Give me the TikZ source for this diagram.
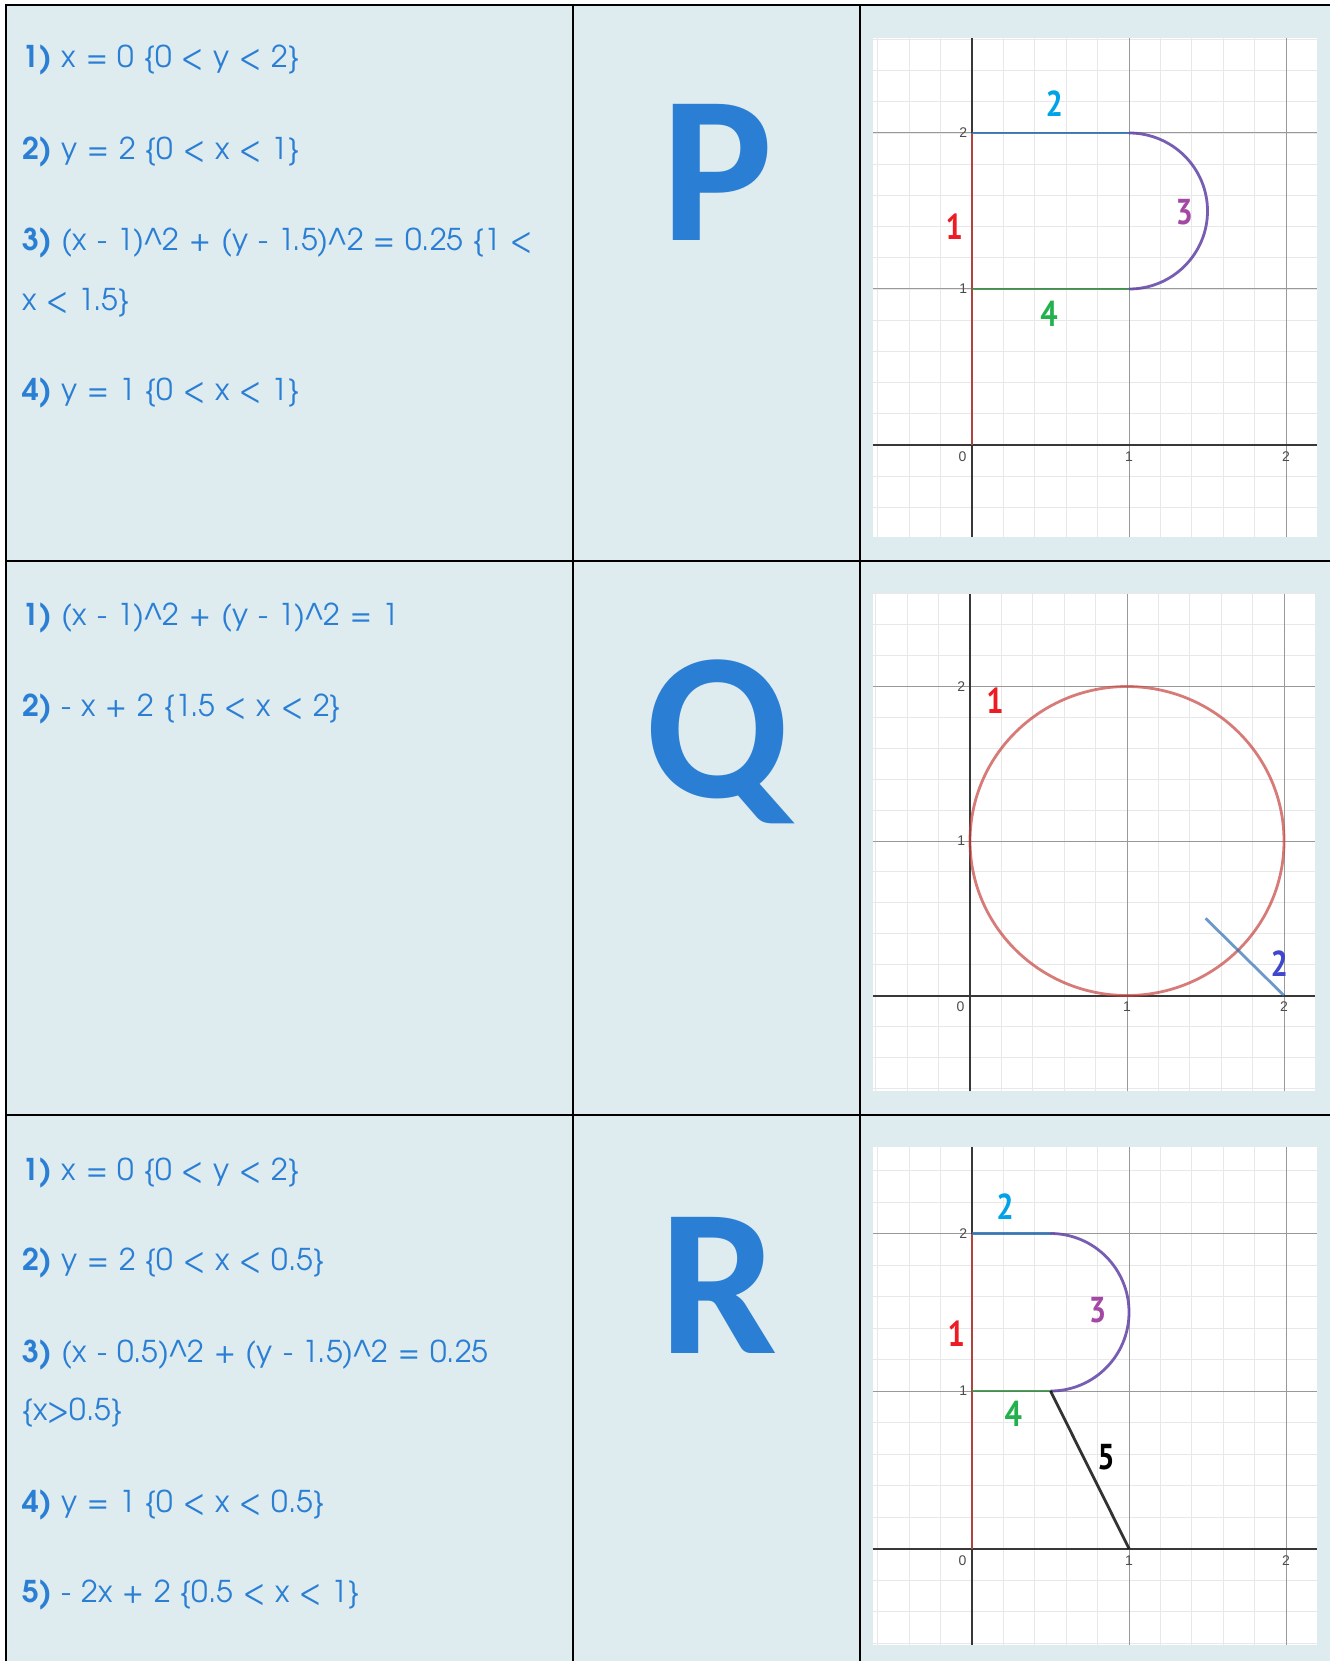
\documentclass[tikz,border=0pt]{standalone}
\usepackage{fontspec}
\setmainfont{texgyreadventor}[Extension=.otf,UprightFont=*-regular,BoldFont=*-bold,WordSpace=1.2]
\newfontfamily\letterfont{Carlito}
\newfontfamily\tickfont{Liberation Sans}
\newfontfamily\labelfont{PT Sans}[FakeStretch=0.85]
\usetikzlibrary{positioning}
\definecolor{cellbg}{RGB}{222,235,239}
\definecolor{eqblue}{RGB}{42,127,213}
\definecolor{dsred}{HTML}{C74440}
\definecolor{dsblue}{HTML}{2D70B3}
\definecolor{dsgreen}{HTML}{388C46}
\definecolor{dspurple}{HTML}{6042A6}
\definecolor{pntred}{HTML}{ED1C24}
\definecolor{pntcyan}{HTML}{00A2E8}
\definecolor{pntpurple}{HTML}{A349A4}
\definecolor{pntgreen}{HTML}{22B14C}
\definecolor{pntindigo}{HTML}{3F48CC}
\tikzset{
  cellline/.style={line width=2pt,black},
  eqline/.style={anchor=base west,inner sep=0pt,text=eqblue,
                 font=\fontsize{30}{36}\selectfont},
  bigletter/.style={anchor=base,inner sep=0pt,text=eqblue,
                    font=\letterfont\bfseries\fontsize{210}{220}\selectfont},
  minorgrid/.style={line width=1pt,black!9},
  majorgrid/.style={line width=1pt,black!40},
  axisline/.style={line width=2pt,black!78},
  ticklabel/.style={inner sep=0pt,text=black!70,font=\tickfont\fontsize{14}{14}\selectfont},
  curve/.style={line width=2.8pt,draw opacity=0.85},
  curvelabel/.style={inner sep=0pt,font=\labelfont\bfseries\fontsize{36}{36}\selectfont},
  graphP/.style={shift={(972,445)},x=157pt,y=156pt},
  graphQ/.style={shift={(970,995.5)},x=157pt,y=154.5pt},
  graphR/.style={shift={(972,1548.5)},x=157pt,y=157.5pt}
}

\begin{document}
\begin{tikzpicture}[x=1pt,y=-1pt]
  \useasboundingbox (0,0) rectangle (1330,1661);
  \fill[white] (0,0) rectangle (1330,1661);
  \fill[cellbg] (6,5) rectangle (1330,1661);

  % table rules
  \draw[cellline] (6,1661) -- (6,5) -- (1330,5);
  \draw[cellline] (573,5) -- (573,1661);
  \draw[cellline] (860,5) -- (860,1661);
  \draw[cellline] (6,561) -- (1330,561);
  \draw[cellline] (6,1115) -- (1330,1115);

  % equations
  \foreach \ty/\txt [count=\i] in {
      68/{\textbf{1)} x = 0 \{0 < y < 2\}},
      160/{\textbf{2)} y = 2 \{0 < x < 1\}},
      251/{\textbf{3)} (x - 1)\textasciicircum2 + (y - 1.5)\textasciicircum2 = 0.25 \{1 <},
      310/{x < 1.5\}},
      400/{\textbf{4)} y = 1 \{0 < x < 1\}}}{
    \node[eqline] (eqP\i) at (22,\ty) {\txt};
  }
  \foreach \ty/\txt [count=\i] in {
      625/{\textbf{1)} (x - 1)\textasciicircum2 + (y - 1)\textasciicircum2 = 1},
      716/{\textbf{2)} - x + 2 \{1.5 < x < 2\}}}{
    \node[eqline] (eqQ\i) at (22,\ty) {\txt};
  }
  \foreach \ty/\txt [count=\i] in {
      1180/{\textbf{1)} x = 0 \{0 < y < 2\}},
      1270/{\textbf{2)} y = 2 \{0 < x < 0.5\}},
      1362/{\textbf{3)} (x - 0.5)\textasciicircum2 + (y - 1.5)\textasciicircum2 = 0.25},
      1420/{\{x>0.5\}},
      1512/{\textbf{4)} y = 1 \{0 < x < 0.5\}},
      1602/{\textbf{5)} - 2x + 2 \{0.5 < x < 1\}}}{
    \node[eqline] (eqR\i) at (22,\ty) {\txt};
  }

  % letters
  \node[bigletter] (letterP) at (717,241) {P};
  \node[bigletter] (letterQ) at (718,797) {Q};
  \node[bigletter] (letterR) at (719,1353) {R};

  % graph paper
  \foreach \gxmin/\gymin/\gymax/\gname in {-0.632/-0.59/2.61/P,
      -0.616/-0.62/2.60/Q, -0.632/-0.61/2.55/R}{
    \begin{scope}[graph\gname]
      \fill[white] (\gxmin,\gymin) rectangle (2.195,\gymax);
      \draw[minorgrid,step=0.2] (\gxmin,\gymin) grid (2.195,\gymax);
      \draw[majorgrid,step=1] (\gxmin,\gymin) grid (2.195,\gymax);
      \draw[axisline] (\gxmin,0) -- (2.195,0);
      \draw[axisline] (0,\gymin) -- (0,\gymax);
      \node[ticklabel] (tick0\gname) at (-0.06,-0.075) {0};
      \node[ticklabel] (tickxa\gname) at (1,-0.075) {1};
      \node[ticklabel] (tickxb\gname) at (2,-0.075) {2};
      \node[ticklabel] (tickya\gname) at (-0.055,1) {1};
      \node[ticklabel] (tickyb\gname) at (-0.055,2) {2};
    \end{scope}
  }

  % P
  \begin{scope}[graphP]
    \draw[curve,dsred] (0,0) -- (0,2);
    \draw[curve,dsblue] (0,2) -- (1,2);
    \draw[curve,dspurple] (1,2) arc[start angle=90,end angle=-90,radius=0.5];
    \draw[curve,dsgreen] (0,1) -- (1,1);
    \node[curvelabel,pntred] (labPa) at (-0.113,1.40) {1};
    \node[curvelabel,pntcyan] (labPb) at (0.524,2.19) {2};
    \node[curvelabel,pntpurple] (labPc) at (1.352,1.49) {3};
    \node[curvelabel,pntgreen] (labPd) at (0.49,0.84) {4};
  \end{scope}

  % Q
  \begin{scope}[graphQ]
    \draw[curve,dsred,draw opacity=0.7] (1,1) circle[radius=1];
    \draw[curve,dsblue,draw opacity=0.7] (1.5,0.5) -- (2,0);
    \node[curvelabel,pntred] (labQa) at (0.16,1.91) {1};
    \node[curvelabel,pntindigo] (labQb) at (1.97,0.205) {2};
  \end{scope}

  % R
  \begin{scope}[graphR]
    \draw[curve,dsred] (0,0) -- (0,2);
    \draw[curve,dsblue] (0,2) -- (0.5,2);
    \draw[curve,dspurple] (0.5,2) arc[start angle=90,end angle=-90,radius=0.5];
    \draw[curve,dsgreen] (0,1) -- (0.5,1);
    \draw[curve,black,draw opacity=0.8] (0.5,1) -- (1,0);
    \node[curvelabel,pntred] (labRa) at (-0.10,1.365) {1};
    \node[curvelabel,pntcyan] (labRb) at (0.21,2.17) {2};
    \node[curvelabel,pntpurple] (labRc) at (0.80,1.515) {3};
    \node[curvelabel,pntgreen] (labRd) at (0.263,0.856) {4};
    \node[curvelabel,black] (labRe) at (0.853,0.577) {5};
  \end{scope}
\end{tikzpicture}
\end{document}
